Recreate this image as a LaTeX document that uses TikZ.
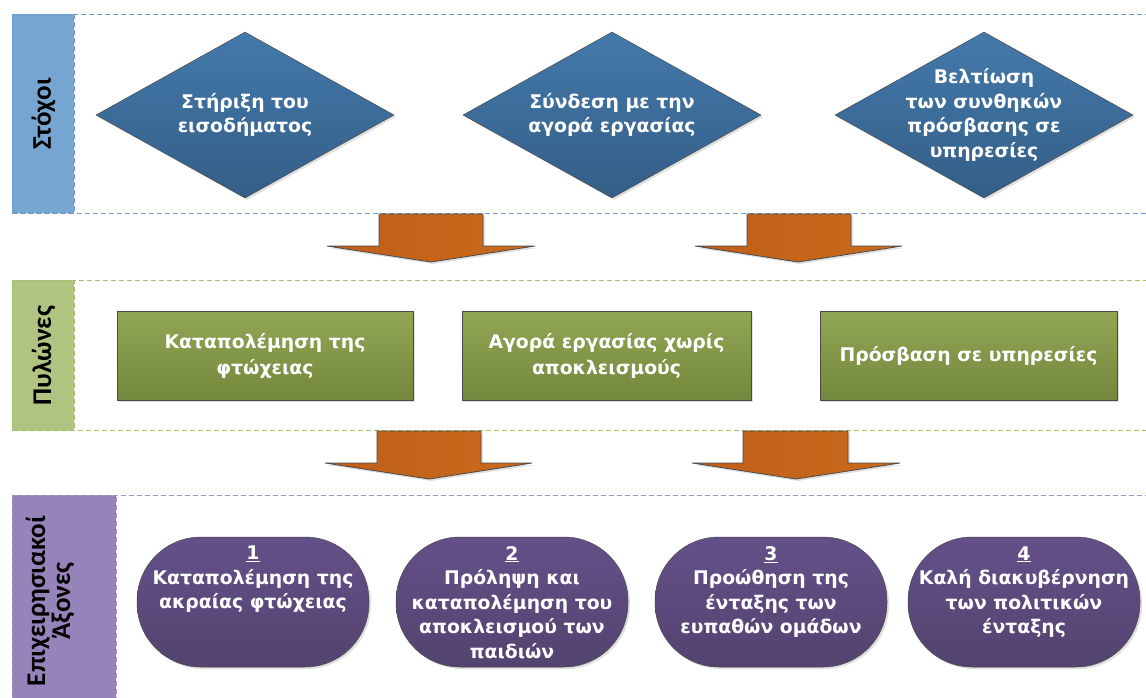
\documentclass[tikz,border=0pt]{standalone}
\usepackage{fontspec}
\setmainfont{DejaVu Sans}
\newfontfamily\labfont{Carlito}
\usetikzlibrary{shapes.geometric,shadows}
\definecolor{bandblue}{HTML}{6E9BC8}
\definecolor{labblue}{HTML}{75A5D0}
\definecolor{diatop}{HTML}{4379AB}
\definecolor{diabot}{HTML}{345E87}
\definecolor{bandgreen}{HTML}{A3BD67}
\definecolor{labgreen}{HTML}{B0C482}
\definecolor{rectop}{HTML}{90A654}
\definecolor{recbot}{HTML}{74883D}
\definecolor{bandpurple}{HTML}{A497C2}
\definecolor{labpurple}{HTML}{9683BA}
\definecolor{stadtop}{HTML}{645089}
\definecolor{stadbot}{HTML}{53436F}
\definecolor{arrleft}{HTML}{BF5F19}
\definecolor{arrright}{HTML}{CA6A1C}
\definecolor{edgegray}{HTML}{4A4A4A}
\begin{document}
\begin{tikzpicture}[x=1pt,y=-1pt,
  bandline/.style={dash pattern=on 5pt off 3pt, line width=0.9pt},
  labbox/.style={bandline, anchor=north west, inner sep=0pt},
  labtext/.style={rotate=90, font=\labfont\bfseries\fontsize{27}{25}\selectfont, text=black, align=center},
  shade/.style={drop shadow={opacity=0.25, shadow xshift=2pt, shadow yshift=-2pt}},
  goal/.style={diamond, draw=edgegray, line width=0.5pt, top color=diatop, bottom color=diabot,
     minimum width=298pt, minimum height=166pt, inner sep=0pt, shade},
  boxtext/.style={text=white, font=\bfseries\fontsize{18.8}{24.5}\selectfont, align=center},
  pillar/.style={rectangle, draw=edgegray, line width=0.6pt, top color=rectop, bottom color=recbot,
     minimum height=89pt, inner sep=0pt, shade},
  axis/.style={rectangle, rounded corners=64pt, draw=edgegray, line width=0.5pt, top color=stadtop,
     bottom color=stadbot, minimum width=232pt, minimum height=130pt, inner sep=0pt, shade},
  blockarrow/.style={draw=edgegray, line width=0.8pt, left color=arrleft, right color=arrright, shade},
]
\useasboundingbox (0,0) rectangle (1146,697);

% ---- bands
\draw[bandline, draw=bandblue] (12,14) rectangle (1150,213);
\draw[bandline, draw=bandgreen] (12,280) rectangle (1150,430);
\draw[bandline, draw=bandpurple] (12,495) rectangle (1150,710);

\node[labbox, draw=bandblue, fill=labblue, minimum width=62pt, minimum height=199pt] (lab1) at (12,14) {};
\node[labtext] (lab1t) at (lab1.center) {Στόχοι};
\node[labbox, draw=bandgreen, fill=labgreen, minimum width=62pt, minimum height=150pt] (lab2) at (12,280) {};
\node[labtext] (lab2t) at (lab2.center) {Πυλώνες};
\node[labbox, draw=bandpurple, fill=labpurple, minimum width=104pt, minimum height=215pt] (lab3) at (12,495) {};
\node[labtext] (lab3t) at (50,601) {Επιχειρησιακοί\\Άξονες};

% ---- goals
\node[goal] (g1) at (245,115) {};
\node[boxtext] at (g1.center) {Στήριξη του\\εισοδήματος};
\node[goal] (g2) at (612,115) {};
\node[boxtext] at (g2.center) {Σύνδεση με την\\αγορά εργασίας};
\node[goal] (g3) at (984,115) {};
\node[boxtext] at (g3.center) {Βελτίωση\\των συνθηκών\\πρόσβασης σε\\υπηρεσίες};

% ---- arrows 1
\draw[blockarrow] (379,214) -- (483,214) -- (483,246) -- (535,246) -- (431,262) -- (327,246) -- (379,246) -- cycle;
\draw[blockarrow] (747,214) -- (851,214) -- (851,246) -- (902,246) -- (798,262) -- (695,246) -- (747,246) -- cycle;

% ---- pillars
\node[pillar, minimum width=296pt] (p1) at (265,355.5) {};
\node[boxtext, font=\bfseries\fontsize{18.8}{26}\selectfont] at (p1.center) {Καταπολέμηση της\\φτώχειας};
\node[pillar, minimum width=289pt] (p2) at (606.5,355.5) {};
\node[boxtext, font=\bfseries\fontsize{18.8}{26}\selectfont] at (p2.center) {Αγορά εργασίας χωρίς\\αποκλεισμούς};
\node[pillar, minimum width=297pt] (p3) at (968.5,355.5) {};
\node[boxtext] at (p3.center) {Πρόσβαση σε υπηρεσίες};

% ---- arrows 2
\draw[blockarrow] (377,431) -- (481,431) -- (481,463) -- (532,463) -- (429,479) -- (325,463) -- (377,463) -- cycle;
\draw[blockarrow] (743,431) -- (848,431) -- (848,463) -- (900,463) -- (796,479) -- (692,463) -- (743,463) -- cycle;

% ---- axes
\node[axis] (a1) at (253,602) {};
\node[boxtext, anchor=north] at ([yshift=-6pt]a1.north) {\underline{1}\\Καταπολέμηση της\\ακραίας φτώχειας};
\node[axis] (a2) at (512,602) {};
\node[boxtext, anchor=north] at ([yshift=-6pt]a2.north) {\underline{2}\\Πρόληψη και\\καταπολέμηση του\\αποκλεισμού των\\παιδιών};
\node[axis] (a3) at (771,602) {};
\node[boxtext, anchor=north] at ([yshift=-6pt]a3.north) {\underline{3}\\Προώθηση της\\ένταξης των\\ευπαθών ομάδων};
\node[axis] (a4) at (1024,602) {};
\node[boxtext, anchor=north] at ([yshift=-6pt]a4.north) {\underline{4}\\Καλή διακυβέρνηση\\των πολιτικών\\ένταξης};
\end{tikzpicture}
\end{document}
